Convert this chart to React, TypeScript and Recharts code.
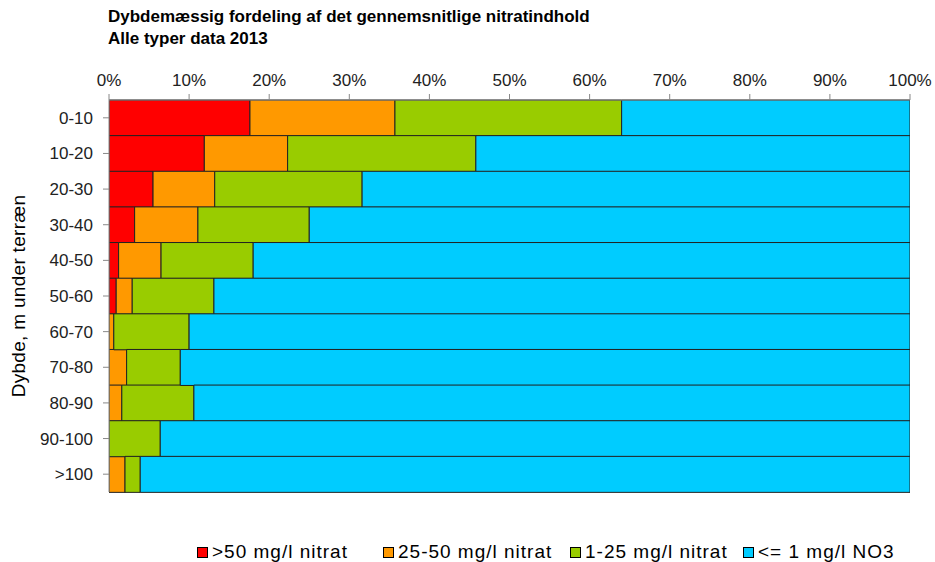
import { BarChart, Bar, XAxis, YAxis } from "recharts";

const depths = ["0-10", "10-20", "20-30", "30-40", "40-50", "50-60", "60-70", "70-80", "80-90", "90-100", ">100"];
const over50 = [17.6, 11.9, 5.5, 3.2, 1.2, 0.9, 0, 0, 0, 0, 0];
const from25to50 = [18.1, 10.4, 7.7, 7.9, 5.3, 2.0, 0.6, 2.2, 1.6, 0, 2.0];
const from1to25 = [28.3, 23.5, 18.4, 13.9, 11.5, 10.2, 9.4, 6.7, 9.0, 6.4, 1.9];
const under1 = [36.0, 54.2, 68.4, 75.0, 82.0, 86.9, 90.0, 91.1, 89.4, 93.6, 96.1];
const percentTicks = [0, 10, 20, 30, 40, 50, 60, 70, 80, 90, 100];

const series = [
  { key: "a", name: ">50 mg/l nitrat", color: "#ff0000", values: over50 },
  { key: "b", name: "25-50 mg/l nitrat", color: "#ff9900", values: from25to50 },
  { key: "c", name: "1-25 mg/l nitrat", color: "#99cc00", values: from1to25 },
  { key: "d", name: "<= 1 mg/l NO3", color: "#00ccff", values: under1 },
];

const data = depths.map((d, i) => {
  const row: Record<string, string | number> = { depth: d };
  series.forEach((s) => (row[s.key] = s.values[i]));
  return row;
});

const font = "Arial, 'Liberation Sans', sans-serif";

export default function App() {
  return (
    <div style={{ position: "absolute", left: 0, top: 0, width: 935, height: 562, fontFamily: font, background: "#fff" }}>
      <div style={{ position: "absolute", left: 108, top: 6, fontSize: 17, fontWeight: "bold", lineHeight: "22px", color: "#000", whiteSpace: "pre" }}>
        {"Dybdemæssig fordeling af det gennemsnitlige nitratindhold\nAlle typer data 2013"}
      </div>
      <BarChart
        width={935}
        height={562}
        data={data}
        layout="vertical"
        barCategoryGap={0}
        margin={{ top: 70, right: 25, bottom: 70, left: 0 }}
      >
        <XAxis
          type="number"
          orientation="top"
          domain={[0, 100]}
          ticks={percentTicks}
          tickFormatter={(v) => `${v}%`}
          height={30}
          allowDataOverflow
          stroke="#888"
          tickSize={6}
          tickMargin={8}
          tick={{ fill: "#222", fontSize: 17, fontFamily: font }}
        />
        <YAxis
          type="category"
          dataKey="depth"
          width={109}
          stroke="#888"
          tickSize={6}
          tickMargin={10}
          tick={{ fill: "#222", fontSize: 17, fontFamily: font }}
          label={{ value: "Dybde, m under terræn", angle: -90, position: "insideLeft", offset: 18, fill: "#000", fontSize: 19, fontFamily: font, style: { textAnchor: "middle", letterSpacing: 0.3 } }}
        />
        {series.map((s) => (
          <Bar key={s.key} dataKey={s.key} name={s.name} stackId="x" fill={s.color} stroke="#222" strokeWidth={1} isAnimationActive={false} />
        ))}
      </BarChart>
      <div style={{ position: "absolute", top: 541, left: 0, width: 935, height: 22, fontSize: 19, letterSpacing: 1, color: "#000" }}>
        {series.map((s, i) => (
          <div key={s.key} style={{ position: "absolute", left: [197, 383, 570, 743][i], top: 0, display: "flex", alignItems: "center", whiteSpace: "nowrap" }}>
            <span style={{ display: "inline-block", width: 9, height: 9, background: s.color, border: "1px solid #000", marginRight: 4 }} />
            <span>{s.name}</span>
          </div>
        ))}
      </div>
    </div>
  );
}
